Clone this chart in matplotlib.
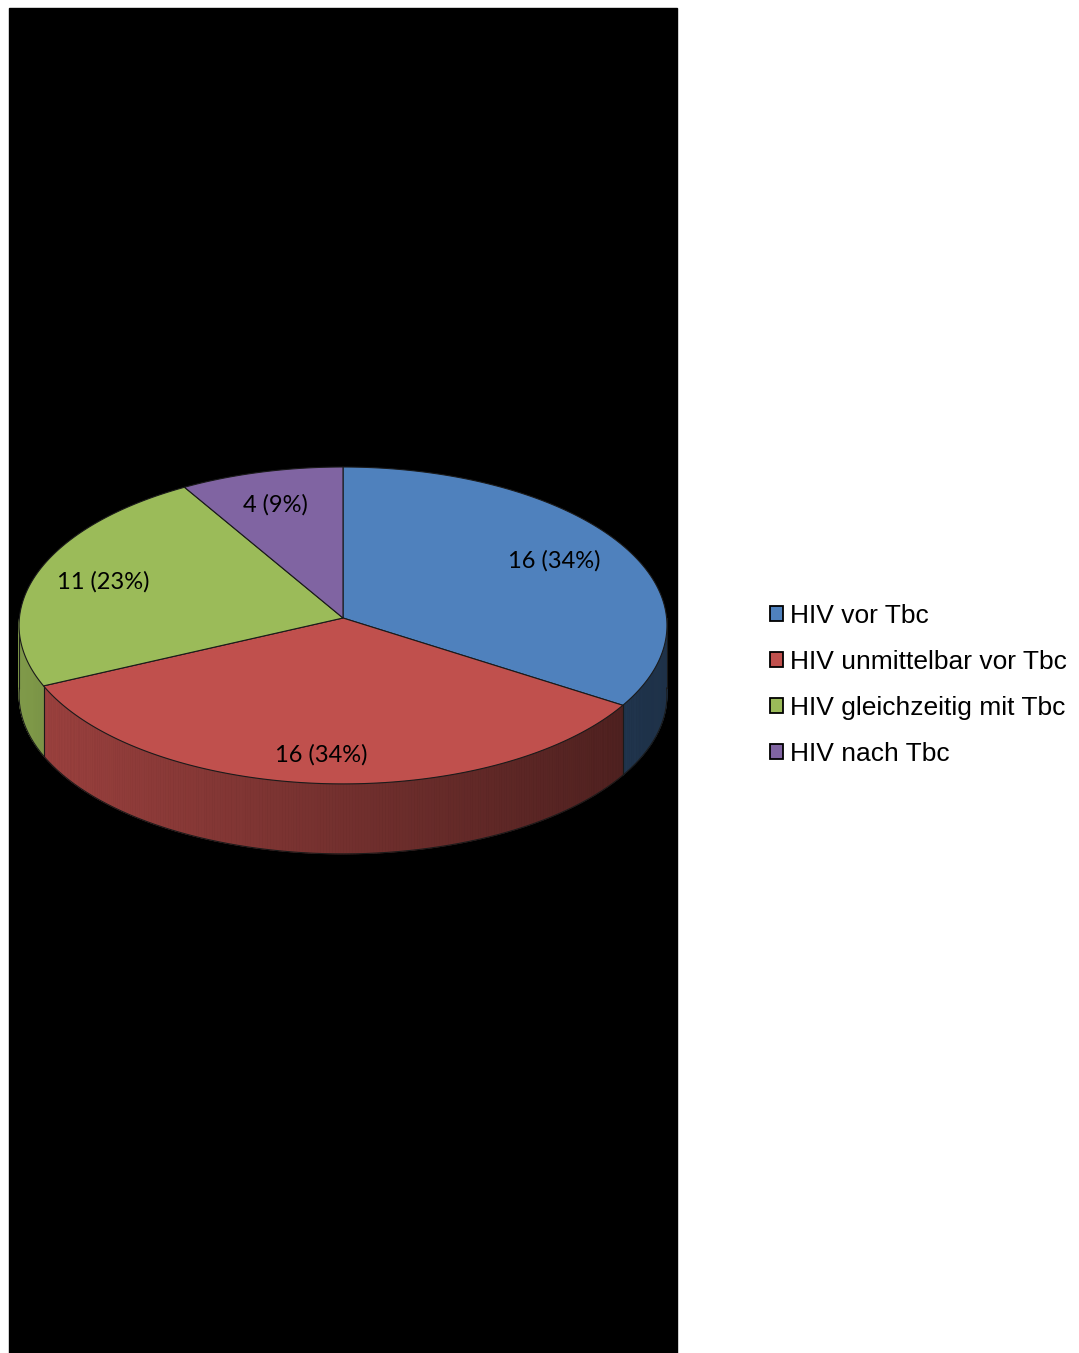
import numpy as np
import matplotlib.pyplot as plt
from matplotlib.patches import Polygon, Rectangle
from matplotlib.colors import to_rgb

labels = ['HIV vor Tbc', 'HIV unmittelbar vor Tbc', 'HIV gleichzeitig mit Tbc', 'HIV nach Tbc']
counts = [16, 16, 11, 4]
colors = ['#4f81bd', '#c0504d', '#9bbb59', '#8064a2']

W, H = 1079, 1353
fig = plt.figure(figsize=(W / 100, H / 100), dpi=100)
ax = fig.add_axes([0, 0, 1, 1])
ax.set_xlim(0, W)
ax.set_ylim(H, 0)
ax.axis('off')

# black plot area
ax.add_patch(Rectangle((9, 8), 668, 1345, color='black', zorder=0))

# 3d pie geometry (pixels), simple perspective
cx, cy, A, B, e, depth = 343, 618, 323.6, 158.1, 0.047, 70
total = sum(counts)
bounds = 90 - 360 * np.concatenate([[0], np.cumsum(counts)]) / total


def pt(t, f=1.0):
    r = np.radians(t)
    c, s = f * np.cos(r), f * np.sin(r)
    w = 1 + e * s
    return cx + A * c / w, cy - B * s / w


def shade(x):
    return 0.82 - 0.44 * (x - (cx - A)) / (2 * A)


# side walls (front half only)
for i, c in enumerate(colors):
    a0, a1 = bounds[i], bounds[i + 1]
    ts = np.linspace(a0, a1, int(abs(a0 - a1) * 2) + 2)
    base = np.array(to_rgb(c))
    for t0, t1 in zip(ts[:-1], ts[1:]):
        if np.sin(np.radians((t0 + t1) / 2)) >= 0:
            continue
        x0, y0 = pt(t0)
        x1, y1 = pt(t1)
        col = np.clip(base * shade((x0 + x1) / 2), 0, 1)
        ax.add_patch(Polygon([(x0, y0), (x1, y1), (x1, y1 + depth), (x0, y0 + depth)],
                             closed=True, facecolor=col, edgecolor=col, lw=0.6, zorder=2))

# side outlines
tb = np.linspace(-180, 0, 300)
bx, by = pt(tb)
ax.plot(bx, by + depth, color='#1a1a1a', lw=0.8, zorder=3)
for t in list(bounds) + [-180, 0]:
    if np.sin(np.radians(t)) <= 1e-9:
        x, y = pt(t)
        ax.plot([x, x], [y, y + depth], color='#1a1a1a', lw=0.8, zorder=3)

# top faces
for i, c in enumerate(colors):
    a0, a1 = bounds[i], bounds[i + 1]
    ts = np.linspace(a0, a1, 200)
    xs, ys = pt(ts)
    verts = [(cx, cy)] + list(zip(xs, ys))
    ax.add_patch(Polygon(verts, closed=True, facecolor=c, edgecolor='#1a1a1a', lw=0.8, zorder=4))

# data labels
for i, n in enumerate(counts):
    mid = (bounds[i] + bounds[i + 1]) / 2
    x, y = pt(mid, 0.77)
    s = np.sin(np.radians(mid))
    if s < 0:
        y += depth * 0.15 * (-s)
    x -= 4
    pct = int(np.floor(100 * n / total + 0.5))
    ax.text(x, y, f'{n} ({pct}%)', ha='center', va='center', fontsize=17,
            family='Lato', color='black', zorder=5)

# legend
handles = [Rectangle((0, 0), 1, 1, facecolor=c, edgecolor='black', lw=1.3) for c in colors]
leg = ax.legend(handles, labels, loc='center left', bbox_to_anchor=(770 / W, 1 - 685 / H),
                frameon=False, prop={'family': 'Liberation Sans', 'size': 19},
                handlelength=0.5, handleheight=0.5, handletextpad=0.25, labelspacing=0.83,
                borderpad=0, borderaxespad=0)

fig.savefig('out.png', dpi=100)
